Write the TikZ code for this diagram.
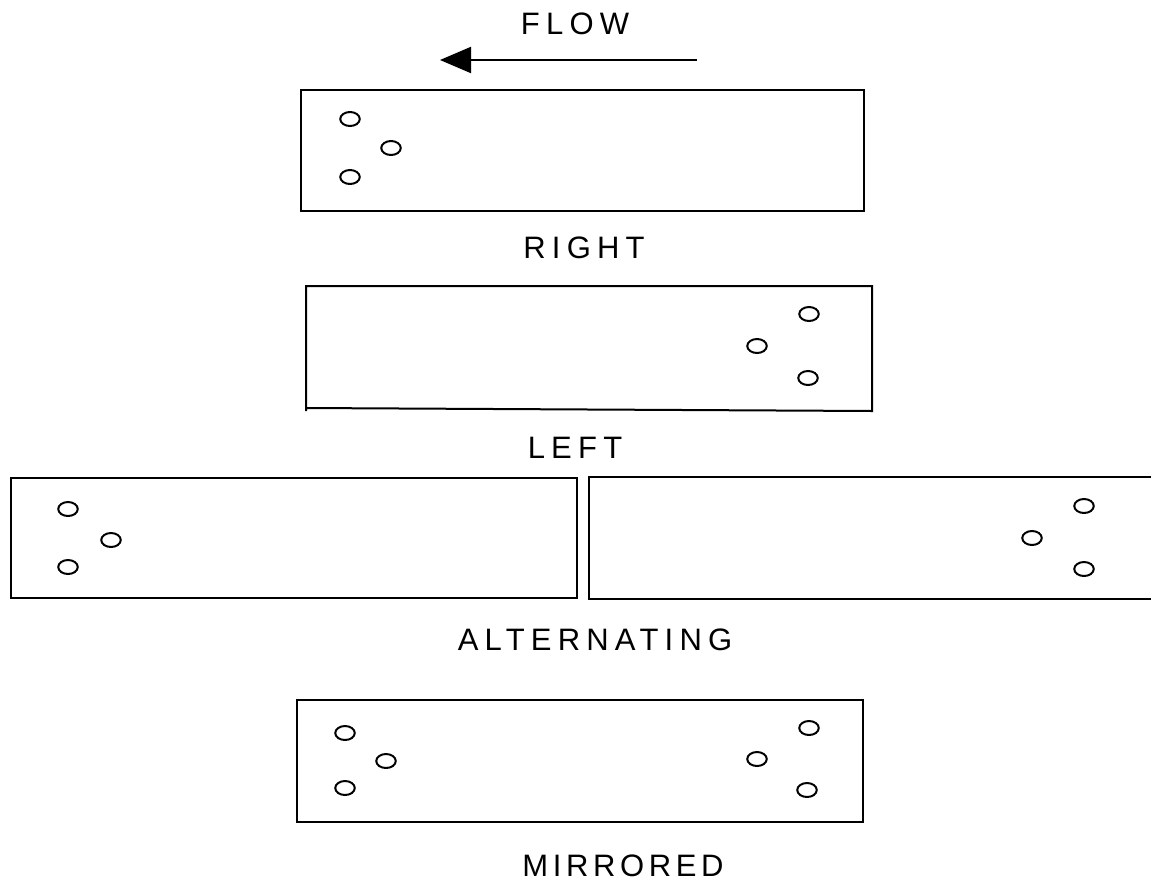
\documentclass[tikz,border=0pt]{standalone}
\usepackage{fontspec}
\setmainfont{Liberation Sans}
\usetikzlibrary{shapes.geometric, arrows.meta, calc}

\begin{document}
\begin{tikzpicture}[x=1pt, y=-1pt, line width=2pt]
  \tikzstyle{hole}=[ellipse, draw, minimum width=19.5pt, minimum height=14pt, inner sep=0pt]
  \tikzstyle{plate}=[draw, inner sep=0pt, minimum height=121pt]
  \tikzstyle{annot}=[inner sep=0pt, font=\fontsize{31}{36}\selectfont\addfontfeature{LetterSpace=20}]

  \useasboundingbox (0,0) rectangle (1151,892);

  % Flow direction
  \node[annot] (flow) at (575,24) {FLOW};
  \coordinate (flow-start) at (697,60);
  \coordinate (flow-end) at (440,60);
  \draw[-{Triangle[length=31pt,width=26pt]}] (flow-start) -- (flow-end);

  % Right hand plate
  \node[plate, minimum width=563pt] (right) at (582.5,150.5) {};
  \foreach \name / \x / \y in {1/350/119, 2/391/148, 3/350/177}
    \node[hole] (R-\name) at (\x,\y) {};
  \node[annot] (right-label) at (584,248) {RIGHT};

  % Left hand plate (bottom edge a bit skew)
  \node[plate, draw=none, minimum width=564pt, minimum height=123pt] (left) at (589,348.5) {};
  \draw (left.south west) -- (left.north west) -- (left.north east) -- (left.south east)
    -- ($(left.south west)+(0,-3)$);
  \foreach \name / \x / \y in {1/809/314, 2/757/346, 3/808/378}
    \node[hole] (L-\name) at (\x,\y) {};
  \node[annot] (left-label) at (575,448) {LEFT};

  % Alternating plates
  \node[plate, minimum width=566pt, minimum height=120pt] (alt-a) at (294,538) {};
  \foreach \name / \x / \y in {1/68/509, 2/111/540, 3/68/567}
    \node[hole] (A-\name) at (\x,\y) {};
  \node[plate, draw=none, minimum width=561pt, minimum height=120pt] (alt-b) at (870.5,538) {};
  \draw (alt-b.north east) -- (alt-b.north west) -- (alt-b.south west) -- (alt-b.south east);
  \foreach \name / \x / \y in {1/1084/506, 2/1032/538, 3/1084/569}
    \node[hole] (B-\name) at (\x,\y) {};
  \node[annot] (alt-label) at (595,640) {ALTERNATING};

  % Mirrored plate
  \node[plate, minimum width=566pt, minimum height=122pt] (mirror) at (580,761) {};
  \foreach \name / \x / \y in {1/345/733, 2/386/761, 3/345/788, 4/809/728, 5/757/759, 6/807/790}
    \node[hole] (M-\name) at (\x,\y) {};
  \node[annot, font=\fontsize{31}{36}\selectfont\addfontfeature{LetterSpace=15}] (mirror-label) at (623,866) {MIRRORED};
\end{tikzpicture}
\end{document}
